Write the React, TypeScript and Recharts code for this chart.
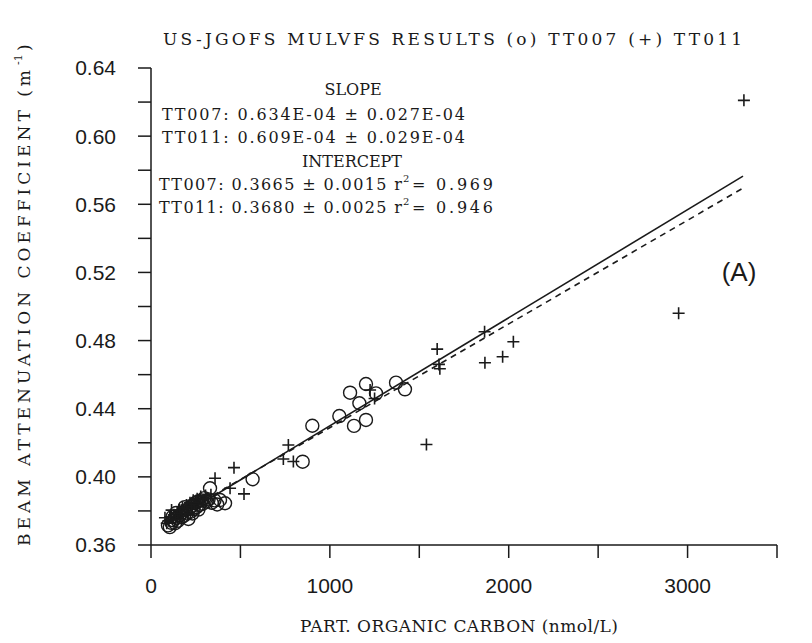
import React from 'react';
import { ScatterChart, Scatter, XAxis, YAxis } from 'recharts';

// TT007 cruise, open circles: [POC nmol/L, beam c m^-1]
const tt007: [number, number][] = [
  [95, 0.3715], [105, 0.3705], [115, 0.373], [125, 0.3745], [135, 0.3728], [145, 0.376],
  [150, 0.3742], [160, 0.3775], [170, 0.3762], [178, 0.379], [185, 0.3772], [195, 0.3805],
  [200, 0.3785], [209, 0.3753], [215, 0.3815], [222, 0.3795], [230, 0.383], [238, 0.381],
  [245, 0.3845], [255, 0.3822], [262, 0.3855], [270, 0.3835], [280, 0.3862], [290, 0.3842],
  [298, 0.3875], [310, 0.3855], [322, 0.3868], [330, 0.3933], [340, 0.3848], [355, 0.3862],
  [370, 0.3838], [386, 0.3864], [414, 0.3845], [188, 0.3822], [232, 0.3785], [265, 0.3808],
  [140, 0.3788], [120, 0.3765],
  [568, 0.3986], [848, 0.4089], [902, 0.43], [1053, 0.4357], [1113, 0.4494], [1135, 0.4299],
  [1165, 0.4432], [1202, 0.4334], [1202, 0.4545], [1258, 0.449], [1370, 0.4553], [1420, 0.4514],
];

// TT011 cruise, plus signs
const tt011: [number, number][] = [
  [78, 0.376], [88, 0.3728], [98, 0.3742], [108, 0.3765], [115, 0.3805], [128, 0.3778],
  [138, 0.3752], [148, 0.379], [158, 0.3805], [168, 0.3785], [176, 0.3818], [188, 0.3798],
  [198, 0.3835], [206, 0.3812], [218, 0.3848], [226, 0.3825], [236, 0.3862], [246, 0.384],
  [258, 0.3872], [268, 0.385], [278, 0.3885], [292, 0.3865], [305, 0.389], [318, 0.3872],
  [335, 0.3895], [358, 0.3992], [442, 0.3933], [464, 0.4054], [520, 0.39],
  [740, 0.4105], [768, 0.4187], [796, 0.409], [1225, 0.451], [1250, 0.446],
  [1540, 0.419], [1600, 0.475], [1610, 0.466], [1615, 0.4635],
  [1865, 0.4852], [1867, 0.467], [1966, 0.4705], [2026, 0.4793], [2950, 0.496], [3315, 0.621],
];

// regression lines, end points
const fit007: [number, number][] = [[80, 0.3716], [3310, 0.5765]];
const fit011: [number, number][] = [[80, 0.3729], [3310, 0.5695]];

const xTicks = [0, 500, 1000, 1500, 2000, 2500, 3000, 3500];
const yTicks = [0.36, 0.38, 0.4, 0.42, 0.44, 0.46, 0.48, 0.5, 0.52, 0.54, 0.56, 0.58, 0.6, 0.62, 0.64];

const toPts = (arr: [number, number][]) => arr.map(([x, y]) => ({ x, y }));

const INK = '#1a1a1a';
const serif = '"DejaVu Serif", "Liberation Serif", serif';
const sans = '"Liberation Sans", Arial, sans-serif';

const Circle = (p: any) => (
  <circle cx={p.cx} cy={p.cy} r={6.5} fill="none" stroke={INK} strokeWidth={1.4} />
);

const Plus = (p: any) => (
  <path
    d={`M${p.cx - 6},${p.cy}H${p.cx + 6}M${p.cx},${p.cy - 6}V${p.cy + 6}`}
    stroke={INK}
    strokeWidth={1.6}
  />
);

const NoDot = () => null;

export default function App() {
  const tickStyle = { fontSize: 21, fill: INK, fontFamily: sans };
  return (
    <div style={{ position: 'absolute', left: 0, top: 0, width: 812, height: 643, background: '#fff' }}>
      <ScatterChart width={812} height={643} margin={{ top: 68, right: 35, bottom: 0, left: 0 }}>
        <XAxis
          xAxisId="b"
          type="number"
          dataKey="x"
          domain={[0, 3500]}
          ticks={xTicks}
          interval={0}
          height={98}
          tickSize={13}
          tickMargin={20}
          stroke={INK}
          strokeWidth={1.5}
          tick={tickStyle}
          tickFormatter={(v: number) => (v % 1000 === 0 && v < 3500 ? String(v) : '')}
        />
        <XAxis
          xAxisId="t"
          orientation="top"
          type="number"
          dataKey="x"
          domain={[0, 3500]}
          ticks={xTicks}
          interval={0}
          height={0}
          tickSize={13}
          stroke={INK}
          strokeWidth={1.5}
          tick={false}
        />
        <YAxis
          yAxisId="l"
          type="number"
          dataKey="y"
          domain={[0.36, 0.64]}
          ticks={yTicks}
          interval={0}
          width={151}
          tickSize={13}
          tickMargin={22}
          stroke={INK}
          strokeWidth={1.5}
          tick={tickStyle}
          tickFormatter={(v: number) => (Math.round(v * 100) % 4 === 0 ? v.toFixed(2) : '')}
        />
        <YAxis
          yAxisId="r"
          orientation="right"
          type="number"
          dataKey="y"
          domain={[0.36, 0.64]}
          ticks={yTicks}
          interval={0}
          width={0}
          tickSize={13}
          stroke={INK}
          strokeWidth={1.5}
          tick={false}
        />
        <Scatter xAxisId="b" yAxisId="l" data={toPts(fit007)} shape={NoDot} line={{ stroke: INK, strokeWidth: 1.6 }} isAnimationActive={false} />
        <Scatter xAxisId="b" yAxisId="l" data={toPts(fit011)} shape={NoDot} line={{ stroke: INK, strokeWidth: 1.6, strokeDasharray: '6 5' }} isAnimationActive={false} />
        <Scatter xAxisId="b" yAxisId="l" data={toPts(tt007)} shape={Circle} isAnimationActive={false} />
        <Scatter xAxisId="b" yAxisId="l" data={toPts(tt011)} shape={Plus} isAnimationActive={false} />
      </ScatterChart>

      <svg width={812} height={643} style={{ position: 'absolute', left: 0, top: 0, pointerEvents: 'none' }}>
        <g fill={INK} fontFamily={serif}>
          <text x={163} y={45} fontSize={17} textLength={579} lengthAdjust="spacing">
            US-JGOFS MULVFS RESULTS (o) TT007 (+) TT011
          </text>
          <text x={300} y={632} fontSize={17} textLength={318} lengthAdjust="spacing">
            PART. ORGANIC CARBON (nmol/L)
          </text>
          <g transform="translate(30,546) rotate(-90)">
            <text x={0} y={0} fontSize={17} textLength={476} lengthAdjust="spacing">
              BEAM ATTENUATION COEFFICIENT (m
            </text>
            <text x={481} y={-8} fontSize={11}>-1</text>
            <text x={495} y={0} fontSize={17}>)</text>
          </g>

          <text x={353} y={95} fontSize={16} textAnchor="middle">SLOPE</text>
          <text x={162} y={120} fontSize={16} textLength={303} lengthAdjust="spacing">TT007: 0.634E-04 ± 0.027E-04</text>
          <text x={162} y={143} fontSize={16} textLength={303} lengthAdjust="spacing">TT011: 0.609E-04 ± 0.029E-04</text>
          <text x={352} y={167} fontSize={16} textAnchor="middle">INTERCEPT</text>
          <text x={159} y={190} fontSize={16} textLength={243} lengthAdjust="spacing">TT007: 0.3665 ± 0.0015 r</text>
          <text x={403} y={182} fontSize={10}>2</text>
          <text x={412} y={190} fontSize={16} textLength={81} lengthAdjust="spacing">= 0.969</text>
          <text x={159} y={213} fontSize={16} textLength={243} lengthAdjust="spacing">TT011: 0.3680 ± 0.0025 r</text>
          <text x={403} y={205} fontSize={10}>2</text>
          <text x={412} y={213} fontSize={16} textLength={81} lengthAdjust="spacing">= 0.946</text>
        </g>
        <text x={739} y={281} fontSize={26} fontFamily={sans} fill={INK} textAnchor="middle">(A)</text>
      </svg>
    </div>
  );
}
